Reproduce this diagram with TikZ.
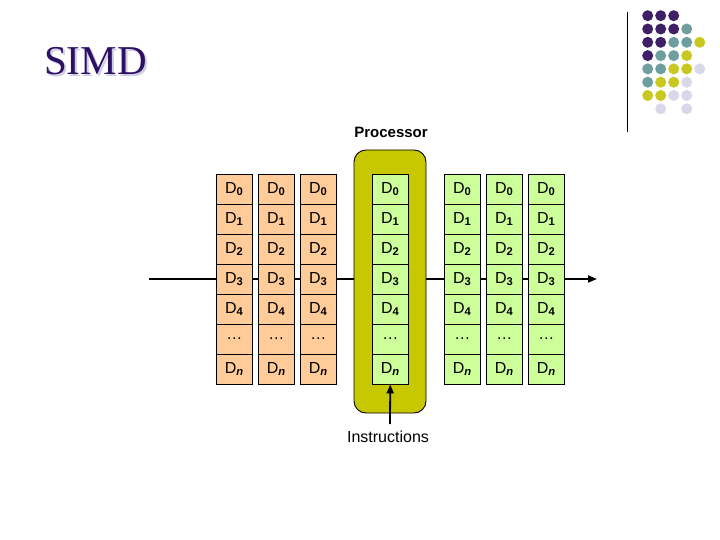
\documentclass[tikz,border=0pt]{standalone}
\usepackage{fontspec}
\setmainfont{Liberation Sans}
\newfontfamily\titlefont{Liberation Serif}
\usetikzlibrary{arrows.meta}
\definecolor{cellorange}{HTML}{FFCC99}
\definecolor{cellgreen}{HTML}{CCFF99}
\definecolor{procyellow}{HTML}{C8C800}
\definecolor{titlepurple}{HTML}{2E0F66}
\definecolor{shadowlav}{HTML}{CCCCE0}
\definecolor{dotP}{HTML}{3F1F66}
\definecolor{dotT}{HTML}{6E9E9E}
\definecolor{dotY}{HTML}{C8C820}
\definecolor{dotL}{HTML}{D8D8E8}
\def\nonetok{N}
\newcommand{\dsub}[1]{D\textsubscript{\bfseries #1}}
\tikzset{
  cell/.style={draw=black, line width=0.9pt, minimum width=36.5pt, minimum height=30pt, inner sep=0pt, font=\fontsize{16}{19}\selectfont},
  ocell/.style={cell, fill=cellorange},
  gcell/.style={cell, fill=cellgreen},
  label/.style={font=\fontsize{16}{19}\selectfont, inner sep=0pt},
  arr/.style={line width=1.8pt, -{Triangle[length=9pt,width=7pt]}},
  dot/.style={circle, minimum size=11pt, inner sep=0pt}
}
\begin{document}
\begin{tikzpicture}[x=1pt,y=-1pt]
\useasboundingbox (0,0) rectangle (720,540);
% title
\node[anchor=base west, inner sep=0pt, text=shadowlav, font=\titlefont\fontsize{41}{48}\selectfont] at (46,77) {SIMD};
\node[anchor=base west, inner sep=0pt, text=titlepurple, font=\titlefont\fontsize{41}{48}\selectfont] (title) at (44,75) {SIMD};
% decoration
\draw[line width=1pt] (627,12) -- (627,132);
\foreach \r/\row in {1/{P,P,P,N,N},2/{P,P,P,T,N},3/{P,P,T,T,Y},4/{P,T,T,Y,N},5/{T,T,Y,Y,L},6/{T,Y,Y,L,N},7/{Y,Y,L,L,N},8/{N,L,N,L,N}}{
  \foreach \c [count=\ci] in \row {
    \ifx\c\nonetok\else
      \node[dot, fill=dot\c] (d\r-\ci) at ({647.7+13*(\ci-1)},{15.7+13.3*(\r-1)}) {};
    \fi
  }
}
% input/output line
\coordinate (lin) at (149,279);
\coordinate (lout) at (597,279);
\draw[arr] (lin) -- (lout);
% processor
\draw[fill=procyellow, line width=0.9pt, rounded corners=12pt] (354,150) rectangle (426,413);
\node[label, anchor=base, font=\bfseries\fontsize{15}{18}\selectfont] (proc) at (391,138) {Processor};
% cells
\foreach \x/\st [count=\k] in {216/ocell,258/ocell,300/ocell,372/gcell,444/gcell,486/gcell,528/gcell}{
  \foreach \t [count=\i] in {\dsub{0},\dsub{1},\dsub{2},\dsub{3},\dsub{4},\ldots,\dsub{\itshape n}}{
    \node[\st] (c\k-\i) at ({\x+18.25},{159+30*\i}) {\t};
  }
}
% instructions
\node[label, anchor=base] (instr) at (388,442) {Instructions};
\coordinate (ibot) at (390,424);
\draw[arr] (ibot) -- (c4-7.south);
\end{tikzpicture}
\end{document}
